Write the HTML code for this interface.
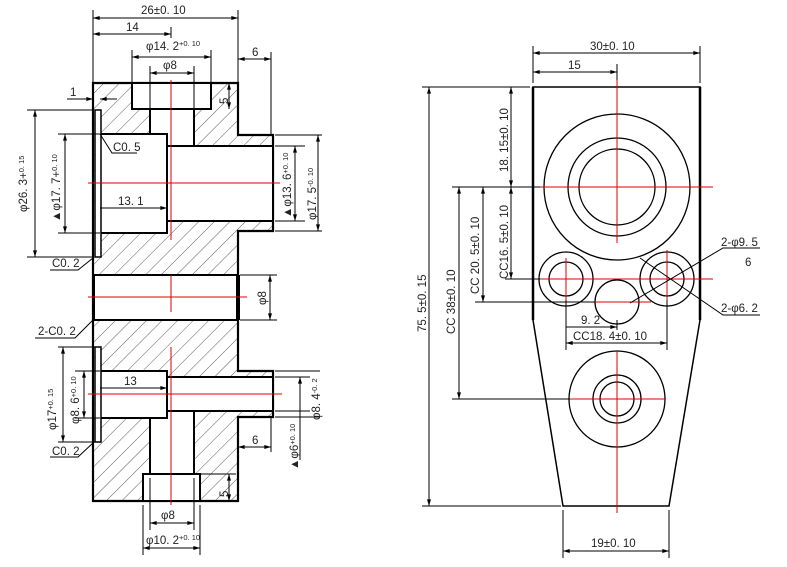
<!DOCTYPE html>
<html><head><meta charset="utf-8"><style>
html,body{margin:0;padding:0;background:#fff;}
svg{display:block}
text{font-family:"Liberation Sans","Noto Sans CJK SC",sans-serif;font-size:11.5px;fill:#222}
</style></head><body>
<svg width="787" height="567" viewBox="0 0 787 567" xmlns="http://www.w3.org/2000/svg">
<defs>
<pattern id="h" width="11" height="11" patternUnits="userSpaceOnUse" patternTransform="rotate(45)">
<line x1="0" y1="0" x2="0" y2="11" stroke="#333" stroke-width="0.8"/>
</pattern>
<marker id="a" viewBox="0 0 10 6" refX="10" refY="3" markerWidth="8" markerHeight="4" orient="auto-start-reverse" markerUnits="userSpaceOnUse">
<path d="M0,0 L10,3 L0,6 z" fill="#000"/>
</marker>
</defs>

<g stroke="#000" stroke-width="2.2">
<path d="M93,83 H238 V135 H273 V231 H238 V371 H273 V417 H238 V501 H93 Z" fill="url(#h)"/>
</g>
<g stroke="#000" stroke-width="2" fill="#fff">
<rect x="132" y="83" width="79" height="26"/>
<rect x="150" y="109" width="44" height="37"/>
<rect x="167" y="146" width="106" height="75"/>
<rect x="100" y="134" width="67" height="99"/>
<rect x="95" y="110" width="6" height="147" stroke-width="1.5"/>
<rect x="94" y="275" width="144" height="45"/>
<rect x="150" y="410" width="44" height="66"/>
<rect x="167" y="377" width="106" height="34"/>
<rect x="100" y="371" width="67" height="47"/>
<rect x="95" y="347" width="6" height="95" stroke-width="1.5"/>
<rect x="143" y="474" width="57" height="27"/>
</g>
<line x1="238" y1="275" x2="238" y2="320" stroke="#000" stroke-width="4"/>
<line x1="273" y1="146" x2="273" y2="221" stroke="#000" stroke-width="2"/>
<line x1="273" y1="377" x2="273" y2="411" stroke="#000" stroke-width="2"/>
<g stroke="#d00" stroke-width="1">
<line x1="88" y1="183" x2="280" y2="183"/><line x1="171" y1="80" x2="171" y2="240"/>
<line x1="88" y1="297" x2="247" y2="297"/><line x1="171" y1="275" x2="171" y2="312"/>
<line x1="88" y1="394" x2="282" y2="394"/><line x1="171" y1="347" x2="171" y2="505"/>
</g>

<g stroke="#000" stroke-width="1" fill="none">
<line x1="93" y1="10" x2="93" y2="83"/><line x1="238" y1="10" x2="238" y2="83"/>
<line x1="93" y1="18" x2="238" y2="18" marker-start="url(#a)" marker-end="url(#a)"/>
<line x1="93" y1="34" x2="171" y2="34" marker-start="url(#a)" marker-end="url(#a)"/>
<line x1="171" y1="27" x2="171" y2="38"/>
<line x1="132" y1="50" x2="132" y2="83"/><line x1="211" y1="50" x2="211" y2="83"/>
<line x1="132" y1="57" x2="211" y2="57" marker-start="url(#a)" marker-end="url(#a)"/>
<line x1="150" y1="66" x2="150" y2="109"/><line x1="194" y1="66" x2="194" y2="109"/>
<line x1="150" y1="73" x2="194" y2="73" marker-start="url(#a)" marker-end="url(#a)"/>
<line x1="271" y1="52" x2="271" y2="135"/>
<line x1="238" y1="59" x2="271" y2="59" marker-start="url(#a)" marker-end="url(#a)"/>
<line x1="67" y1="99" x2="93" y2="99" marker-end="url(#a)"/>
<line x1="117" y1="99" x2="100" y2="99" marker-end="url(#a)"/>
<line x1="229" y1="83" x2="229" y2="109" marker-start="url(#a)" marker-end="url(#a)"/>
<line x1="27" y1="110" x2="93" y2="110"/><line x1="27" y1="257" x2="93" y2="257"/>
<line x1="35" y1="110" x2="35" y2="257" marker-start="url(#a)" marker-end="url(#a)"/>
<line x1="58" y1="134" x2="100" y2="134"/><line x1="58" y1="233" x2="100" y2="233"/>
<line x1="65" y1="134" x2="65" y2="233" marker-start="url(#a)" marker-end="url(#a)"/>
<line x1="275" y1="146" x2="305" y2="146"/><line x1="275" y1="221" x2="305" y2="221"/>
<line x1="295" y1="146" x2="295" y2="221" marker-start="url(#a)" marker-end="url(#a)"/>
<line x1="275" y1="135" x2="322" y2="135"/><line x1="275" y1="231" x2="322" y2="231"/>
<line x1="318" y1="135" x2="318" y2="231" marker-start="url(#a)" marker-end="url(#a)"/>
<line x1="100" y1="208" x2="167" y2="208" marker-end="url(#a)"/>
<polyline points="100,134 112,153 137,153"/>
<polyline points="93,258 78,270 50,270"/>
<line x1="240" y1="275" x2="277" y2="275"/><line x1="240" y1="320" x2="277" y2="320"/>
<line x1="270" y1="275" x2="270" y2="320" marker-start="url(#a)" marker-end="url(#a)"/>
<polyline points="93,320 75,338 35,338"/>
<line x1="58" y1="347" x2="96" y2="347"/><line x1="58" y1="442" x2="96" y2="442"/>
<line x1="63" y1="347" x2="63" y2="442" marker-start="url(#a)" marker-end="url(#a)"/>
<line x1="75" y1="371" x2="100" y2="371"/><line x1="75" y1="418" x2="100" y2="418"/>
<line x1="84" y1="371" x2="84" y2="418" marker-start="url(#a)" marker-end="url(#a)"/>
<line x1="100" y1="388" x2="167" y2="388" marker-end="url(#a)"/>
<line x1="275" y1="371" x2="320" y2="371"/><line x1="275" y1="417" x2="320" y2="417"/>
<line x1="300" y1="377" x2="300" y2="460" marker-start="url(#a)"/>
<line x1="275" y1="377" x2="310" y2="377"/><line x1="275" y1="411" x2="310" y2="411"/>
<line x1="271" y1="417" x2="271" y2="452"/>
<line x1="238" y1="447" x2="271" y2="447" marker-start="url(#a)" marker-end="url(#a)"/>
<line x1="229" y1="474" x2="229" y2="501" marker-start="url(#a)" marker-end="url(#a)"/>
<line x1="200" y1="474" x2="236" y2="474"/>
<polyline points="93,443 78,457 50,457"/>
<line x1="150" y1="478" x2="150" y2="530"/><line x1="194" y1="478" x2="194" y2="530"/>
<line x1="150" y1="523" x2="194" y2="523" marker-start="url(#a)" marker-end="url(#a)"/>
<line x1="143" y1="505" x2="143" y2="555"/><line x1="200" y1="505" x2="200" y2="555"/>
<line x1="143" y1="548" x2="200" y2="548" marker-start="url(#a)" marker-end="url(#a)"/>
</g>
<g>
<text x="141" y="14">26±0. 10</text>
<text x="126" y="31">14</text>
<text x="146" y="50">φ14. 2<tspan font-size="7.5" dy="-4">+0. 10</tspan></text>
<text x="163" y="69">φ8</text>
<text x="252" y="56">6</text>
<text x="70" y="96">1</text>
<text x="113" y="151">C0. 5</text>
<text x="118" y="205">13. 1</text>
<text x="52" y="267">C0. 2</text>
<text x="38" y="335">2-C0. 2</text>
<text x="124" y="385">13</text>
<text x="52" y="455">C0. 2</text>
<text x="252" y="444">6</text>
<text x="161" y="519">φ8</text>
<text x="146" y="544">φ10. 2<tspan font-size="7.5" dy="-4">+0. 10</tspan></text>
<text transform="translate(228,104) rotate(-90)">5</text>
<text transform="translate(228,497) rotate(-90)">5</text>
<text transform="translate(27,212) rotate(-90)">φ26. 3+<tspan font-size="7.5" dy="-3">0. 15</tspan></text>
<text transform="translate(60,222) rotate(-90)">▲φ17. 7+<tspan font-size="7.5" dy="-3">0. 10</tspan></text>
<text transform="translate(291,218) rotate(-90)">▲φ13. 6<tspan font-size="7.5" dy="-3">+0. 10</tspan></text>
<text transform="translate(316,220) rotate(-90)">φ17. 5<tspan font-size="7.5" dy="-3">-0. 10</tspan></text>
<text transform="translate(266,305) rotate(-90)">φ8</text>
<text transform="translate(56,430) rotate(-90)">φ17<tspan font-size="7.5" dy="-3">+0. 15</tspan></text>
<text transform="translate(79,424) rotate(-90)">φ8. 6<tspan font-size="7.5" dy="-3">+0. 10</tspan></text>
<text transform="translate(320,420) rotate(-90)">φ8. 4<tspan font-size="7.5" dy="-3">-0. 2</tspan></text>
<text transform="translate(298,470) rotate(-90)">▲φ6<tspan font-size="7.5" dy="-3">+0. 10</tspan></text>
</g>

<path d="M533,87 H700 V320 L669,506 H563 L533,320 Z" fill="#fff" stroke="#000" stroke-width="1.5"/>
<line x1="533" y1="87" x2="533" y2="320" stroke="#000" stroke-width="2.5"/>
<line x1="700" y1="87" x2="700" y2="320" stroke="#000" stroke-width="2.5"/>
<g fill="none" stroke="#000" stroke-width="1.3">
<circle cx="617" cy="187" r="73"/><circle cx="617" cy="187" r="49"/><circle cx="617" cy="187" r="38"/>
<circle cx="566" cy="279" r="27"/><circle cx="566" cy="279" r="17"/>
<circle cx="667" cy="279" r="27"/><circle cx="667" cy="279" r="17"/>
<circle cx="617" cy="302" r="22"/>
<circle cx="617" cy="399" r="48"/><circle cx="617" cy="399" r="24"/><circle cx="617" cy="399" r="17"/>
</g>
<g stroke="#d00" stroke-width="1">
<line x1="617" y1="80" x2="617" y2="243"/><line x1="540" y1="187" x2="713" y2="187"/>
<line x1="540" y1="279" x2="713" y2="279"/><line x1="566" y1="258" x2="566" y2="300"/><line x1="667" y1="250" x2="667" y2="300"/>
<line x1="593" y1="302" x2="651" y2="302"/>
<line x1="617" y1="351" x2="617" y2="513"/><line x1="568" y1="399" x2="666" y2="399"/>
</g>
<g stroke="#000" stroke-width="1" fill="none">
<line x1="533" y1="46" x2="533" y2="83"/><line x1="700" y1="46" x2="700" y2="83"/>
<line x1="533" y1="53" x2="700" y2="53" marker-start="url(#a)" marker-end="url(#a)"/>
<line x1="617" y1="64" x2="617" y2="80"/>
<line x1="533" y1="72" x2="617" y2="72" marker-start="url(#a)" marker-end="url(#a)"/>
<line x1="422" y1="87" x2="530" y2="87"/><line x1="422" y1="506" x2="561" y2="506"/>
<line x1="429" y1="87" x2="429" y2="506" marker-start="url(#a)" marker-end="url(#a)"/>
<line x1="452" y1="187" x2="540" y2="187"/>
<line x1="459" y1="187" x2="459" y2="399" marker-start="url(#a)" marker-end="url(#a)"/>
<line x1="452" y1="399" x2="570" y2="399"/>
<line x1="475" y1="302" x2="595" y2="302"/>
<line x1="483" y1="187" x2="483" y2="302" marker-start="url(#a)" marker-end="url(#a)"/>
<line x1="505" y1="279" x2="540" y2="279"/>
<line x1="511" y1="87" x2="511" y2="187" marker-start="url(#a)" marker-end="url(#a)"/>
<line x1="511" y1="187" x2="511" y2="279" marker-start="url(#a)" marker-end="url(#a)"/>
<line x1="566" y1="300" x2="566" y2="350"/><line x1="667" y1="300" x2="667" y2="350"/>
<line x1="617" y1="320" x2="617" y2="330"/>
<line x1="566" y1="327" x2="617" y2="327" marker-end="url(#a)"/>
<line x1="566" y1="343" x2="667" y2="343" marker-start="url(#a)" marker-end="url(#a)"/>
<line x1="563" y1="510" x2="563" y2="558"/><line x1="669" y1="510" x2="669" y2="558"/>
<line x1="563" y1="551" x2="669" y2="551" marker-start="url(#a)" marker-end="url(#a)"/>
<polyline points="760,248 723,248 630,303"/>
<polyline points="760,315 723,315 640,258"/>
</g>
<g>
<text x="590" y="50">30±0. 10</text>
<text x="568" y="69">15</text>
<text x="721" y="246">2-φ9. 5</text>
<text x="745" y="266">6</text>
<text x="721" y="312">2-φ6. 2</text>
<text x="581" y="324">9. 2</text>
<text x="573" y="340">CC18. 4±0. 10</text>
<text x="591" y="547">19±0. 10</text>
<text transform="translate(426,332) rotate(-90)">75. 5±0. 15</text>
<text transform="translate(455,334) rotate(-90)">CC 38±0. 10</text>
<text transform="translate(479,294) rotate(-90)">CC 20. 5±0. 10</text>
<text transform="translate(508,172) rotate(-90)">18. 15±0. 10</text>
<text transform="translate(508,279) rotate(-90)">CC16. 5±0. 10</text>
</g>
</svg>
</body></html>
